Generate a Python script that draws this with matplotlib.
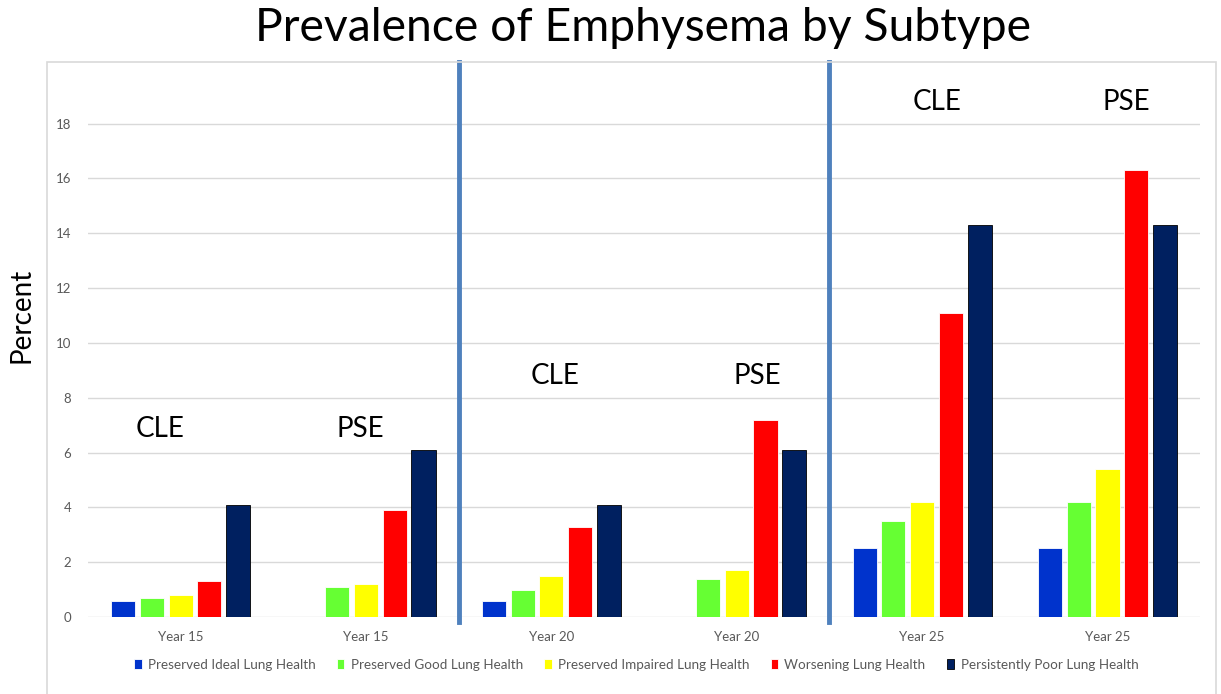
import matplotlib.pyplot as plt
import matplotlib.patches as mpatches
import matplotlib.transforms as mtransforms
import numpy as np

plt.rcParams['font.family'] = ['Lato', 'DejaVu Sans']

# data
categories = ["Year 15", "Year 15", "Year 20", "Year 20", "Year 25", "Year 25"]
subtypes = ["CLE", "PSE", "CLE", "PSE", "CLE", "PSE"]
series_names = ["Preserved Ideal Lung Health", "Preserved Good Lung Health",
                "Preserved Impaired Lung Health", "Worsening Lung Health",
                "Persistently Poor Lung Health"]
ideal = [0.6, 0, 0.6, 0, 2.5, 2.5]
good = [0.7, 1.1, 1.0, 1.4, 3.5, 4.2]
impaired = [0.8, 1.2, 1.5, 1.7, 4.2, 5.4]
worsening = [1.3, 3.9, 3.3, 7.2, 11.1, 16.3]
poor = [4.1, 6.1, 4.1, 6.1, 14.3, 14.3]

# where the subtype labels sit (data units)
label_y = [6.4, 6.4, 8.3, 8.3, 18.3, 18.3]
label_dx = [-0.11, -0.03, 0.02, 0.11, 0.08, 0.10]

series = [ideal, good, impaired, worsening, poor]
colors = ["#0033cc", "#66ff33", "#ffff00", "#ff0000", "#002060"]
edges = ["white", "white", "white", "white", "black"]

fig = plt.figure(figsize=(12.21, 6.94), dpi=100)
ax = fig.add_axes([0.072, 0.111, 0.911, 0.782])

# outer chart frame
frame = mpatches.Rectangle((0.0385, -0.01), 0.957, 0.9207, transform=fig.transFigure,
                           fill=False, edgecolor="#d9d9d9", linewidth=1.2, zorder=0)
fig.patches.append(frame)

x = np.arange(len(categories))
width = 0.13
step = 0.155
for i, (vals, c, ec) in enumerate(zip(series, colors, edges)):
    ax.bar(x + (i - 2) * step, vals, width, color=c, edgecolor=ec, linewidth=0.6,
           label=series_names[i], zorder=3)

# subtype labels
for xi, dx, s, h in zip(x, label_dx, subtypes, label_y):
    ax.text(xi + dx, h, s, ha="center", va="bottom", fontsize=20, color="black")

# separators between years
trans = mtransforms.blended_transform_factory(ax.transData, ax.transAxes)
for xs in [1.5, 3.5]:
    ax.plot([xs, xs], [-0.01, 1.023], transform=trans, color="#4f81bd",
            linewidth=3.5, clip_on=False, zorder=4)

ax.set_xlim(-0.5, 5.5)
ax.set_ylim(0, 19.8)
ax.set_yticks(np.arange(0, 19, 2))
ax.set_xticks(x)
ax.set_xticklabels(categories)
ax.tick_params(axis="y", length=0, labelsize=9.5, colors="#595959", pad=12)
ax.tick_params(axis="x", length=0, labelsize=9.5, colors="#595959", pad=10)
ax.yaxis.grid(True, color="#d9d9d9", linewidth=1)
ax.set_axisbelow(True)
for sp in ax.spines.values():
    sp.set_visible(False)

fig.text(0.018, 0.545, "Percent", rotation=90, ha="center", va="center", fontsize=20)
fig.suptitle("Prevalence of Emphysema by Subtype", fontsize=33.3, x=0.527, y=0.99)

ax.legend(loc="upper center", bbox_to_anchor=(0.493, -0.055), ncol=5, frameon=False,
          fontsize=9.7, labelcolor="#595959", handlelength=0.55, handleheight=0.75,
          handletextpad=0.45, columnspacing=1.6)

fig.savefig("out.png", dpi=100)
